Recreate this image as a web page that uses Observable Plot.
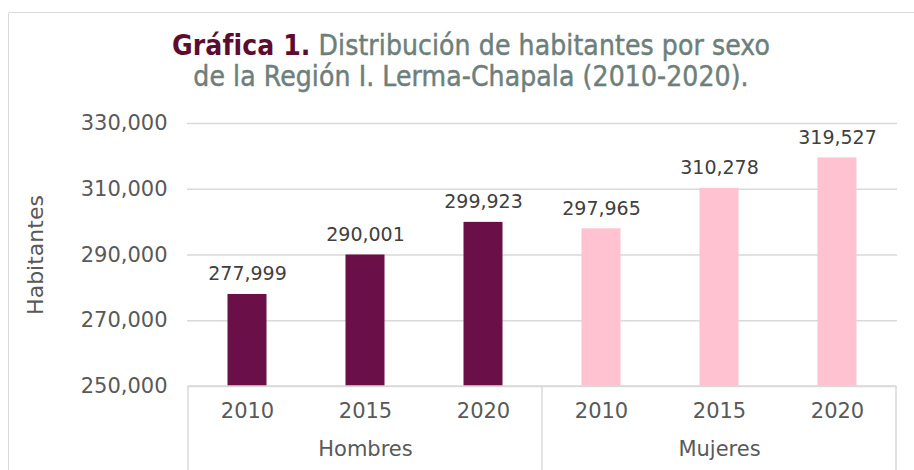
<!DOCTYPE html>
<html><head><meta charset="utf-8">
<script src="https://cdn.jsdelivr.net/npm/d3@7"></script>
<script src="https://cdn.jsdelivr.net/npm/@observablehq/plot@0.6"></script>
<style>
html,body{margin:0;padding:0;background:#fff;overflow:hidden;width:914px;height:470px;}
#frame{position:absolute;left:8px;top:12px;width:1000px;height:600px;border:1.5px solid #d9d9d9;border-radius:2px;}
#title{position:absolute;left:0;top:30px;width:942px;text-align:center;font-family:"DejaVu Sans Condensed","Liberation Sans Narrow",sans-serif;font-size:28px;line-height:31px;color:#6e7f7b;-webkit-text-stroke:0.45px #6e7f7b;letter-spacing:0.1px;}
#title b{color:#5c0c30;-webkit-text-stroke:0;}
#chart{position:absolute;left:0;top:100px;}
</style></head>
<body>
<div id="frame"></div>
<div id="title"><b>Gráfica 1.</b> Distribución de habitantes por sexo<br>de la Región I. Lerma-Chapala (2010-2020).</div>
<div id="chart"></div>
<script>
const groups = ["Hombres","Hombres","Hombres","Mujeres","Mujeres","Mujeres"];
const years = ["2010","2015","2020","2010","2015","2020"];
const values = [277999, 290001, 299923, 297965, 310278, 319527];
const yTicks = [250000, 270000, 290000, 310000, 330000];
const groupNames = ["Hombres","Mujeres"];
const colors = {Hombres:"#6b0f48", Mujeres:"#ffc2d0"};

const data = values.map((v,i)=>({key:groups[i]+"|"+years[i], group:groups[i], year:years[i], value:v}));
const keys = data.map(d=>d.key);
const fmt = d3.format(",");
const font = "DejaVu Sans, sans-serif";

const groupLabels = groupNames.map(g => ({group:g, key: data.filter(d=>d.group===g)[1].key}));
const boundaries = groupNames.map(g => data.find(d=>d.group===g).key);

const separators = (index, scales, values, dims) => {
  const x = scales.x, bw = x.bandwidth();
  const g = d3.create("svg:g").attr("stroke","#d9d9d9").attr("stroke-width",1.5);
  const y0 = dims.height - dims.marginBottom, y1 = dims.height;
  const xs = boundaries.map(k => x(k)).concat([x(keys[keys.length-1]) + bw]);
  xs.forEach(px => g.append("line").attr("x1",px).attr("x2",px).attr("y1",y0).attr("y2",y1));
  g.append("line").attr("x1",xs[0]).attr("x2",xs[xs.length-1]).attr("y1",y0).attr("y2",y0);
  return g.node();
};

const plot = Plot.plot({
  width: 914, height: 370,
  marginLeft: 187, marginRight: 17, marginTop: 23, marginBottom: 84,
  style: {fontFamily: font, background: "transparent"},
  x: {domain: keys, padding: 0, axis: null},
  y: {domain: [250000, 330000], axis: null},
  marks: [
    Plot.gridY(yTicks, {stroke:"#d9d9d9", strokeOpacity:1, strokeWidth:1.5}),
    Plot.axisY(yTicks, {tickSize:0, tickPadding:20, tickFormat: fmt, fontSize:21, fill:"#595959", label:null}),
    Plot.text(["Habitantes"], {frameAnchor:"left", dx:-152, rotate:-90, textAnchor:"middle", fontSize:22, fill:"#595959"}),
    Plot.barY(data, {x:"key", y1:250000, y2:"value", fill: d=>colors[d.group], insetLeft:39.5, insetRight:39.5}),
    Plot.text(data, {x:"key", y:"value", text: d=>fmt(d.value), dy:-14, lineAnchor:"bottom", fontSize:19, fill:"#404040"}),
    Plot.axisX({tickSize:0, tickPadding:17, tickFormat: k => k.split("|")[1], fontSize:21, fill:"#595959", label:null}),
    Plot.text(groupLabels, {x:"key", frameAnchor:"bottom", dy:63, text:"group", fontSize:21, fill:"#595959", lineAnchor:"middle"}),
    separators
  ]
});
document.getElementById("chart").appendChild(plot);
</script>
</body></html>
